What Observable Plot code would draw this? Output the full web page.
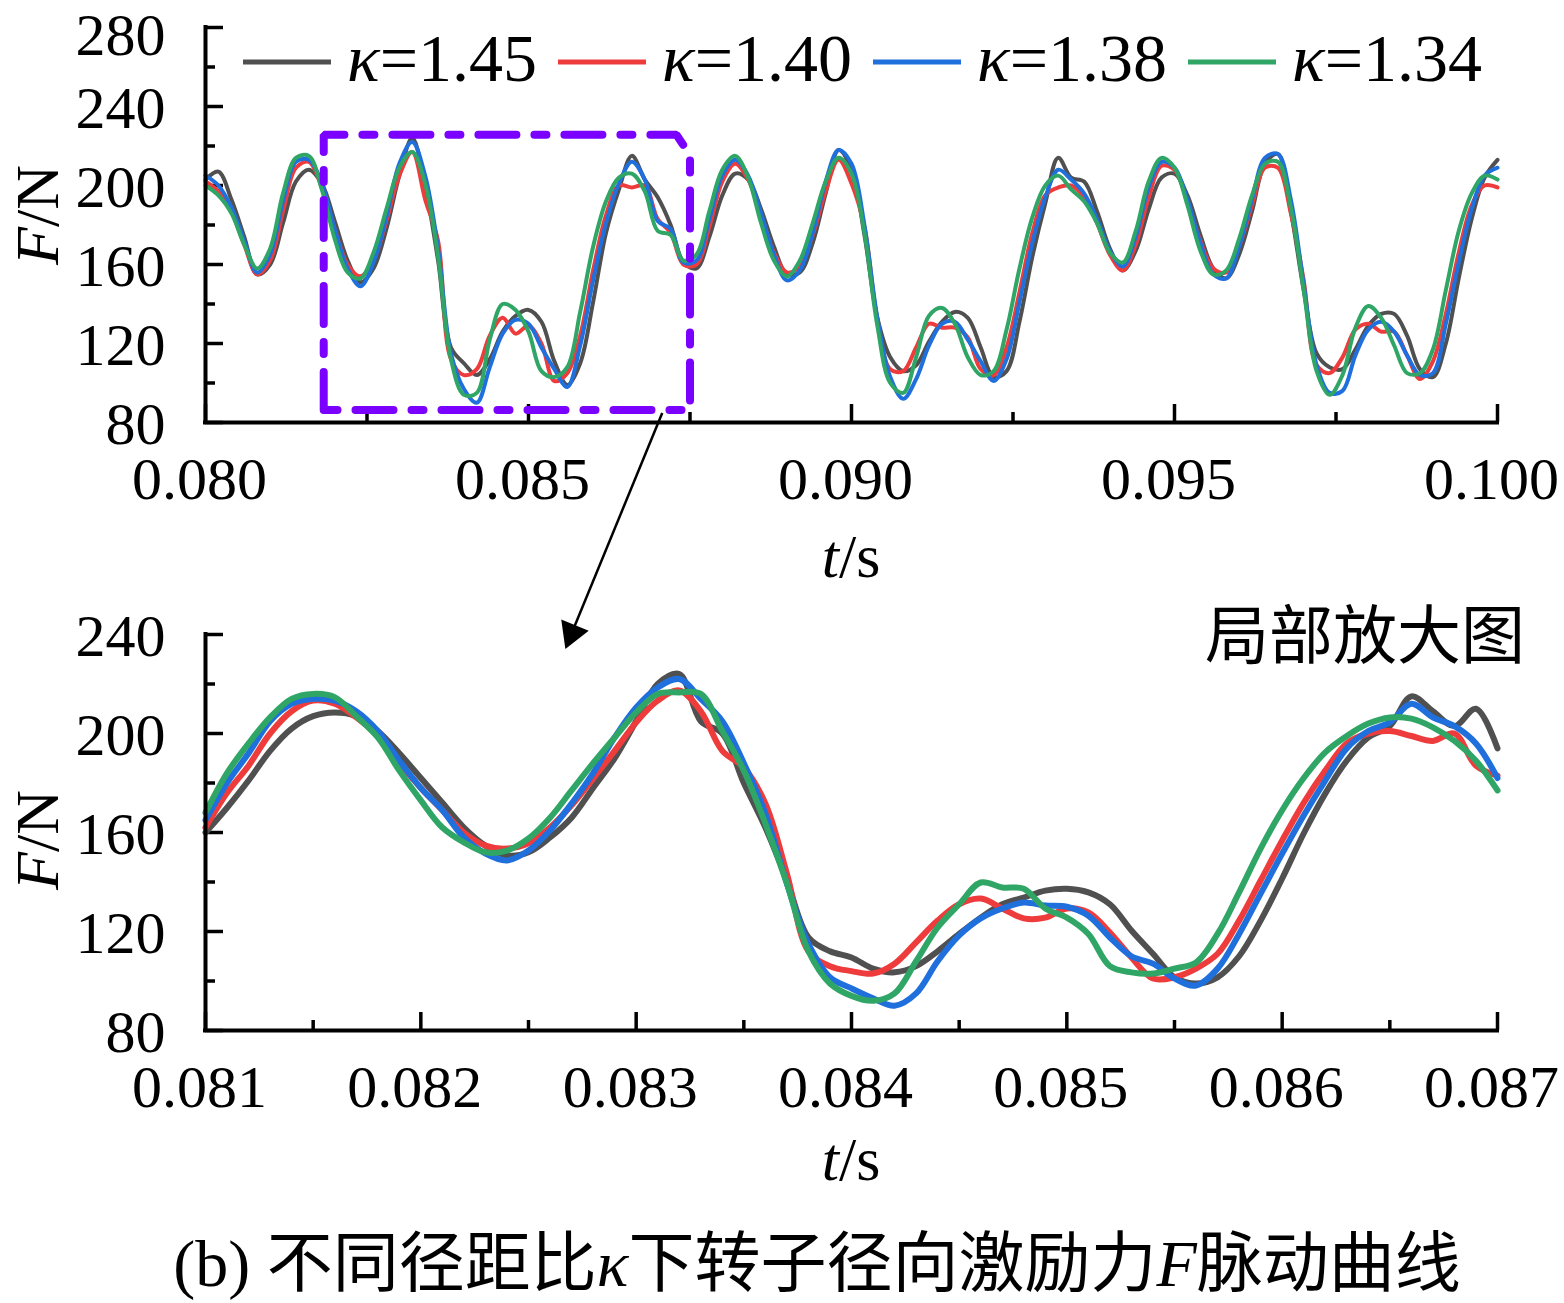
<!DOCTYPE html>
<html>
<head>
<meta charset="utf-8">
<script src="https://cdn.jsdelivr.net/npm/d3@7"></script>
<script src="https://cdn.jsdelivr.net/npm/@observablehq/plot@0.6"></script>
<style>
  html, body { margin: 0; padding: 0; background: #fff; }
  #wrap { position: relative; width: 1564px; height: 1303px; overflow: hidden; background: #fff; }
  #bot { position: absolute; left: 0; top: 600px; z-index: 1; }
  #top { position: absolute; left: 0; top: 0; z-index: 2; }
  svg { overflow: visible; }
</style>
</head>
<body>
<div id="wrap"><div id="bot"></div><div id="top"></div></div>
<script>
// ---------------- data ----------------
const kappaValues = ["1.45", "1.40", "1.38", "1.34"];
const kappaLabels = kappaValues.map(v => "κ=" + v);
const colors = ["#505050", "#ee3c3c", "#1f6fdc", "#2fa566"];

// top panel: t = 0.080 … 0.100 s, every 0.0002 s
const tTop = d3.range(101).map(i => Math.round((0.080 + i * 0.0002) * 1e4) / 1e4);
const F145Top = [203,207,193,174,155,160,181,202,208,201,182,162,151,158,178,205,224,200,162,118,110,104,112,126,134,137,131,111,99,110,141,176,198,215,203,194,
  180,161,158,174,195,206,203,188,169,155,156,171,196,218,208,175,133,113,106,109,121,131,136,133,118,103,106,131,164,191,214,
  204,202,187,168,157,167,188,204,206,195,175,158,153,165,187,211,216,187,147,115,108,107,117,129,135,135,124,107,103,120,153,183,204,213];
const F140Top = [202,197,187,170,155,162,187,209,212,199,178,160,154,162,182,205,217,193,172,112,104,107,124,133,125,129,120,101,105,124,157,185,200,199,200,183,
  176,160,160,179,202,211,203,185,166,156,159,175,197,213,201,179,132,107,106,118,130,128,128,123,107,104,118,146,176,195,199,
  200,194,181,165,157,170,194,210,208,192,172,158,156,169,190,209,209,186,152,109,105,113,127,130,126,126,114,102,111,135,166,190,200,199];
const F138Top = [205,200,189,172,156,165,192,212,213,201,178,158,149,161,184,211,222,205,168,115,97,90,108,125,132,130,118,107,98,119,152,181,201,212,203,182,
  178,161,162,183,205,213,205,186,165,152,157,176,202,218,211,180,133,103,92,102,119,130,131,122,111,101,112,141,171,194,208,
  203,196,183,167,159,174,199,212,209,193,171,155,153,169,193,214,216,193,150,109,95,96,114,127,131,126,114,104,105,130,161,188,205,209];
const F134Top = [200,195,186,170,158,168,196,214,215,198,173,156,153,166,188,209,217,201,164,112,94,95,122,140,137,126,106,103,108,136,169,192,204,206,197,177,
  175,162,165,187,208,215,204,181,162,154,162,181,202,214,206,176,129,100,95,113,134,138,130,113,104,106,127,158,184,200,205,
  198,192,181,166,161,177,202,214,209,190,167,155,157,173,195,211,212,189,147,106,94,104,128,139,133,119,105,105,117,147,177,196,205,203];

// zoomed panel: t = 0.081 … 0.087 s, every 0.0001 s
const tZoom = d3.range(61).map(i => Math.round((0.081 + i * 0.0001) * 1e4) / 1e4);
const F145Zoom = [160,170,181,193,202,207,208.5,207,201,192,182,172,162,154.7,150.7,152,158,166,178,190,205,220,224,205,200,180,162,140.6,117.6,112,109.5,105,103.5,106,112,119,125.6,131,133.7,136.5,137.3,135.8,131,120.4,111,101.5,99,101.5,110,124.4,141.4,159.6,175.7,189,198.4,203,215,209,203,210,194];
const F140Zoom = [162,176,187,200,209,213.3,212,206.5,199,188,178,169,160,154.7,153.5,155.6,162,171,181.8,193,204.5,213.3,217.4,209,193,186.3,171.7,143.4,112,106,104,103,107,115.6,124.4,131,133.3,129.3,125.3,125.6,129.3,127.7,119.6,109.5,101,101.5,105,111,124.4,140.6,156.8,172,185,196,200,201,199,197,200,187,183];
const F138Zoom = [165,180,192,205,212,214,213.3,209,201,189,178,169,158,151.5,148.7,152.7,160.8,171.7,184,198.4,210.5,218.6,222,214,205,188,167.7,139.4,115,101.5,97,93,90,95,108,118.4,125.3,129.3,131.7,130.5,130,126.4,117.6,110,107,101,98.2,105,119,135.3,151.5,166.9,181,194,201,204.5,212,206.5,203,196,182];
const F134Zoom = [168,184,196,206.5,214,216,214.7,207,198.4,185,173,162,156,152,152.7,157.6,166,177,188,198.4,208.5,216,216.6,216,201,185,163.6,139.4,112,99,94,92,95,108,121.6,131,139.8,137.8,137.3,129.3,125.6,119,106,103.5,103,105,107.5,119,135.8,153.5,169,182,192.4,199,204,206.5,206,202.5,197,189,177];

// ticks
const topXMajor = [0.080, 0.085, 0.090, 0.095, 0.100];
const topXMinor = [0.0825, 0.0875, 0.0925, 0.0975];
const topYMajor = [80, 120, 160, 200, 240, 280];
const topYMinor = [100, 140, 180, 220, 260];
const zoomXMajor = [0.081, 0.082, 0.083, 0.084, 0.085, 0.086, 0.087];
const zoomXMinor = [0.0815, 0.0825, 0.0835, 0.0845, 0.0855, 0.0865];
const zoomYMajor = [80, 120, 160, 200, 240];
const zoomYMinor = [100, 140, 180, 220];

// annotation: dash-dot box around the zoomed window and the arrow
const boxT = [0.08183, 0.08183, 0.08729, 0.08750, 0.08750, 0.08183];
const boxF = [86.3, 225.7, 225.7, 215.5, 86.3, 86.3];
const arrowFrom = {t: 0.08707, F: 84.8};
const arrowTo = {t: 0.08567, F: -26.6};

// ---------------- build ----------------
const topSeries = [F145Top, F140Top, F138Top, F134Top];
const zoomSeries = [F145Zoom, F140Zoom, F138Zoom, F134Zoom];
const topRows = kappaLabels.flatMap((s, si) => topSeries[si].map((F, i) => ({t: tTop[i], F, s})));
const zoomRows = kappaLabels.flatMap((s, si) => zoomSeries[si].map((F, i) => ({t: tZoom[i], F, s})));
const box = boxT.map((t, i) => ({t, F: boxF[i]}));

const serif = "'Liberation Serif','Times New Roman','Noto Sans CJK SC',serif";
const fmt3 = d3.format(".3f");

function axesMarks(xMajor, xMinor, yMajor, yMinor, innerW, innerH) {
  return [
    Plot.tickX(xMinor, {x: d => d, insetTop: innerH - 10, stroke: "#000", strokeWidth: 3.5}),
    Plot.tickX(xMajor, {x: d => d, insetTop: innerH - 18, stroke: "#000", strokeWidth: 3.5}),
    Plot.tickY(yMinor, {y: d => d, insetRight: innerW - 10, stroke: "#000", strokeWidth: 3.5}),
    Plot.tickY(yMajor, {y: d => d, insetRight: innerW - 18, stroke: "#000", strokeWidth: 3.5})
  ];
}
function frameMarks(x0, y0, xMajor, yMajor, topLabelDy) {
  const yLow = yMajor.slice(0, -1), yTop = yMajor.slice(-1);
  const yText = {frameAnchor: "left", dx: -40, textAnchor: "end", text: d => String(d), fontSize: 60, lineAnchor: "middle", fill: "#000"};
  return [
    Plot.ruleX([x0], {stroke: "#000", strokeWidth: 4, strokeLinecap: "square"}),
    Plot.ruleY([y0], {stroke: "#000", strokeWidth: 4, strokeLinecap: "square"}),
    Plot.text(xMajor, {x: d => d, frameAnchor: "bottom", dy: 57, dx: -6, text: d => fmt3(d), fontSize: 60, lineAnchor: "middle", fill: "#000"}),
    Plot.text(yLow, {y: d => d, dy: 2, ...yText}),
    Plot.text(yTop, {y: d => d, dy: topLabelDy, ...yText})
  ];
}

const topPlot = Plot.plot({
  width: 1564, height: 600,
  marginLeft: 205, marginRight: 67, marginTop: 27, marginBottom: 178,
  style: {background: "transparent", overflow: "visible", fontFamily: serif, color: "#000"},
  x: {domain: [0.080, 0.100], axis: null},
  y: {domain: [80, 280], axis: null},
  color: {domain: kappaLabels, range: colors},
  marks: [
    ...axesMarks(topXMajor, topXMinor, topYMajor, topYMinor, 1292, 395),
    Plot.line(topRows, {x: "t", y: "F", z: "s", stroke: "s", strokeWidth: 4, curve: "catmull-rom"}),
    Plot.line(box, {x: "t", y: "F", stroke: "#7a00ff", strokeWidth: 8, strokeDasharray: "38,18,12,18", strokeLinejoin: "miter"}),
    Plot.link([{x1: arrowFrom.t, y1: arrowFrom.F, x2: arrowTo.t, y2: arrowTo.F}], {x1: "x1", y1: "y1", x2: "x2", y2: "y2", stroke: "#000", strokeWidth: 2.5}),
    Plot.dot([arrowTo], {x: "t", y: "F", symbol: "triangle", r: 11, fill: "#000", stroke: "none", rotate: 202}),
    ...frameMarks(0.080, 80, topXMajor, topYMajor, 8)
  ]
});

const zoomPlot = Plot.plot({
  width: 1564, height: 703,
  marginLeft: 205, marginRight: 67, marginTop: 34, marginBottom: 273,
  style: {background: "transparent", overflow: "visible", fontFamily: serif, color: "#000"},
  x: {domain: [0.081, 0.087], axis: null},
  y: {domain: [80, 240], axis: null},
  color: {domain: kappaLabels, range: colors},
  marks: [
    ...axesMarks(zoomXMajor, zoomXMinor, zoomYMajor, zoomYMinor, 1292, 396),
    Plot.line(zoomRows, {x: "t", y: "F", z: "s", stroke: "s", strokeWidth: 6, curve: "catmull-rom"}),
    ...frameMarks(0.081, 80, zoomXMajor, zoomYMajor, 2)
  ]
});

document.getElementById("top").appendChild(topPlot);
document.getElementById("bot").appendChild(zoomPlot);

// ---------------- texts ----------------
function addText(svg, {x, y, size, anchor = "start", rotate = 0, family = serif}, parts) {
  const t = svg.append("text")
    .attr("transform", `translate(${x},${y}) rotate(${rotate})`)
    .attr("text-anchor", anchor)
    .attr("font-size", size)
    .attr("font-family", family)
    .attr("fill", "#000");
  parts.forEach(p => t.append("tspan").attr("font-style", p.i ? "italic" : "normal").text(p.s));
}
const ts = d3.select(topPlot), bs = d3.select(zoomPlot);

// legend
kappaValues.forEach((v, i) => {
  const x0 = 243 + 315 * i;
  ts.append("line").attr("x1", x0).attr("x2", x0 + 88).attr("y1", 62).attr("y2", 62)
    .attr("stroke", colors[i]).attr("stroke-width", 5);
  addText(ts, {x: x0 + 104, y: 81, size: 68}, [{s: "κ", i: true}, {s: "=" + v}]);
});

addText(ts, {x: 851, y: 577, size: 62, anchor: "middle"}, [{s: "t", i: true}, {s: "/s"}]);
addText(ts, {x: 58, y: 215, size: 62, anchor: "middle", rotate: -90}, [{s: "F", i: true}, {s: "/N"}]);

addText(bs, {x: 851, y: 580, size: 62, anchor: "middle"}, [{s: "t", i: true}, {s: "/s"}]);
addText(bs, {x: 58, y: 240, size: 62, anchor: "middle", rotate: -90}, [{s: "F", i: true}, {s: "/N"}]);
addText(bs, {x: 1525, y: 58, size: 64, anchor: "end", family: "'Noto Sans CJK SC',sans-serif"}, [{s: "局部放大图"}]);
addText(bs, {x: 817, y: 686, size: 66, anchor: "middle"},
  [{s: "(b) 不同径距比"}, {s: "κ", i: true}, {s: "下转子径向激励力"}, {s: "F", i: true}, {s: "脉动曲线"}]);
</script>
</body>
</html>
